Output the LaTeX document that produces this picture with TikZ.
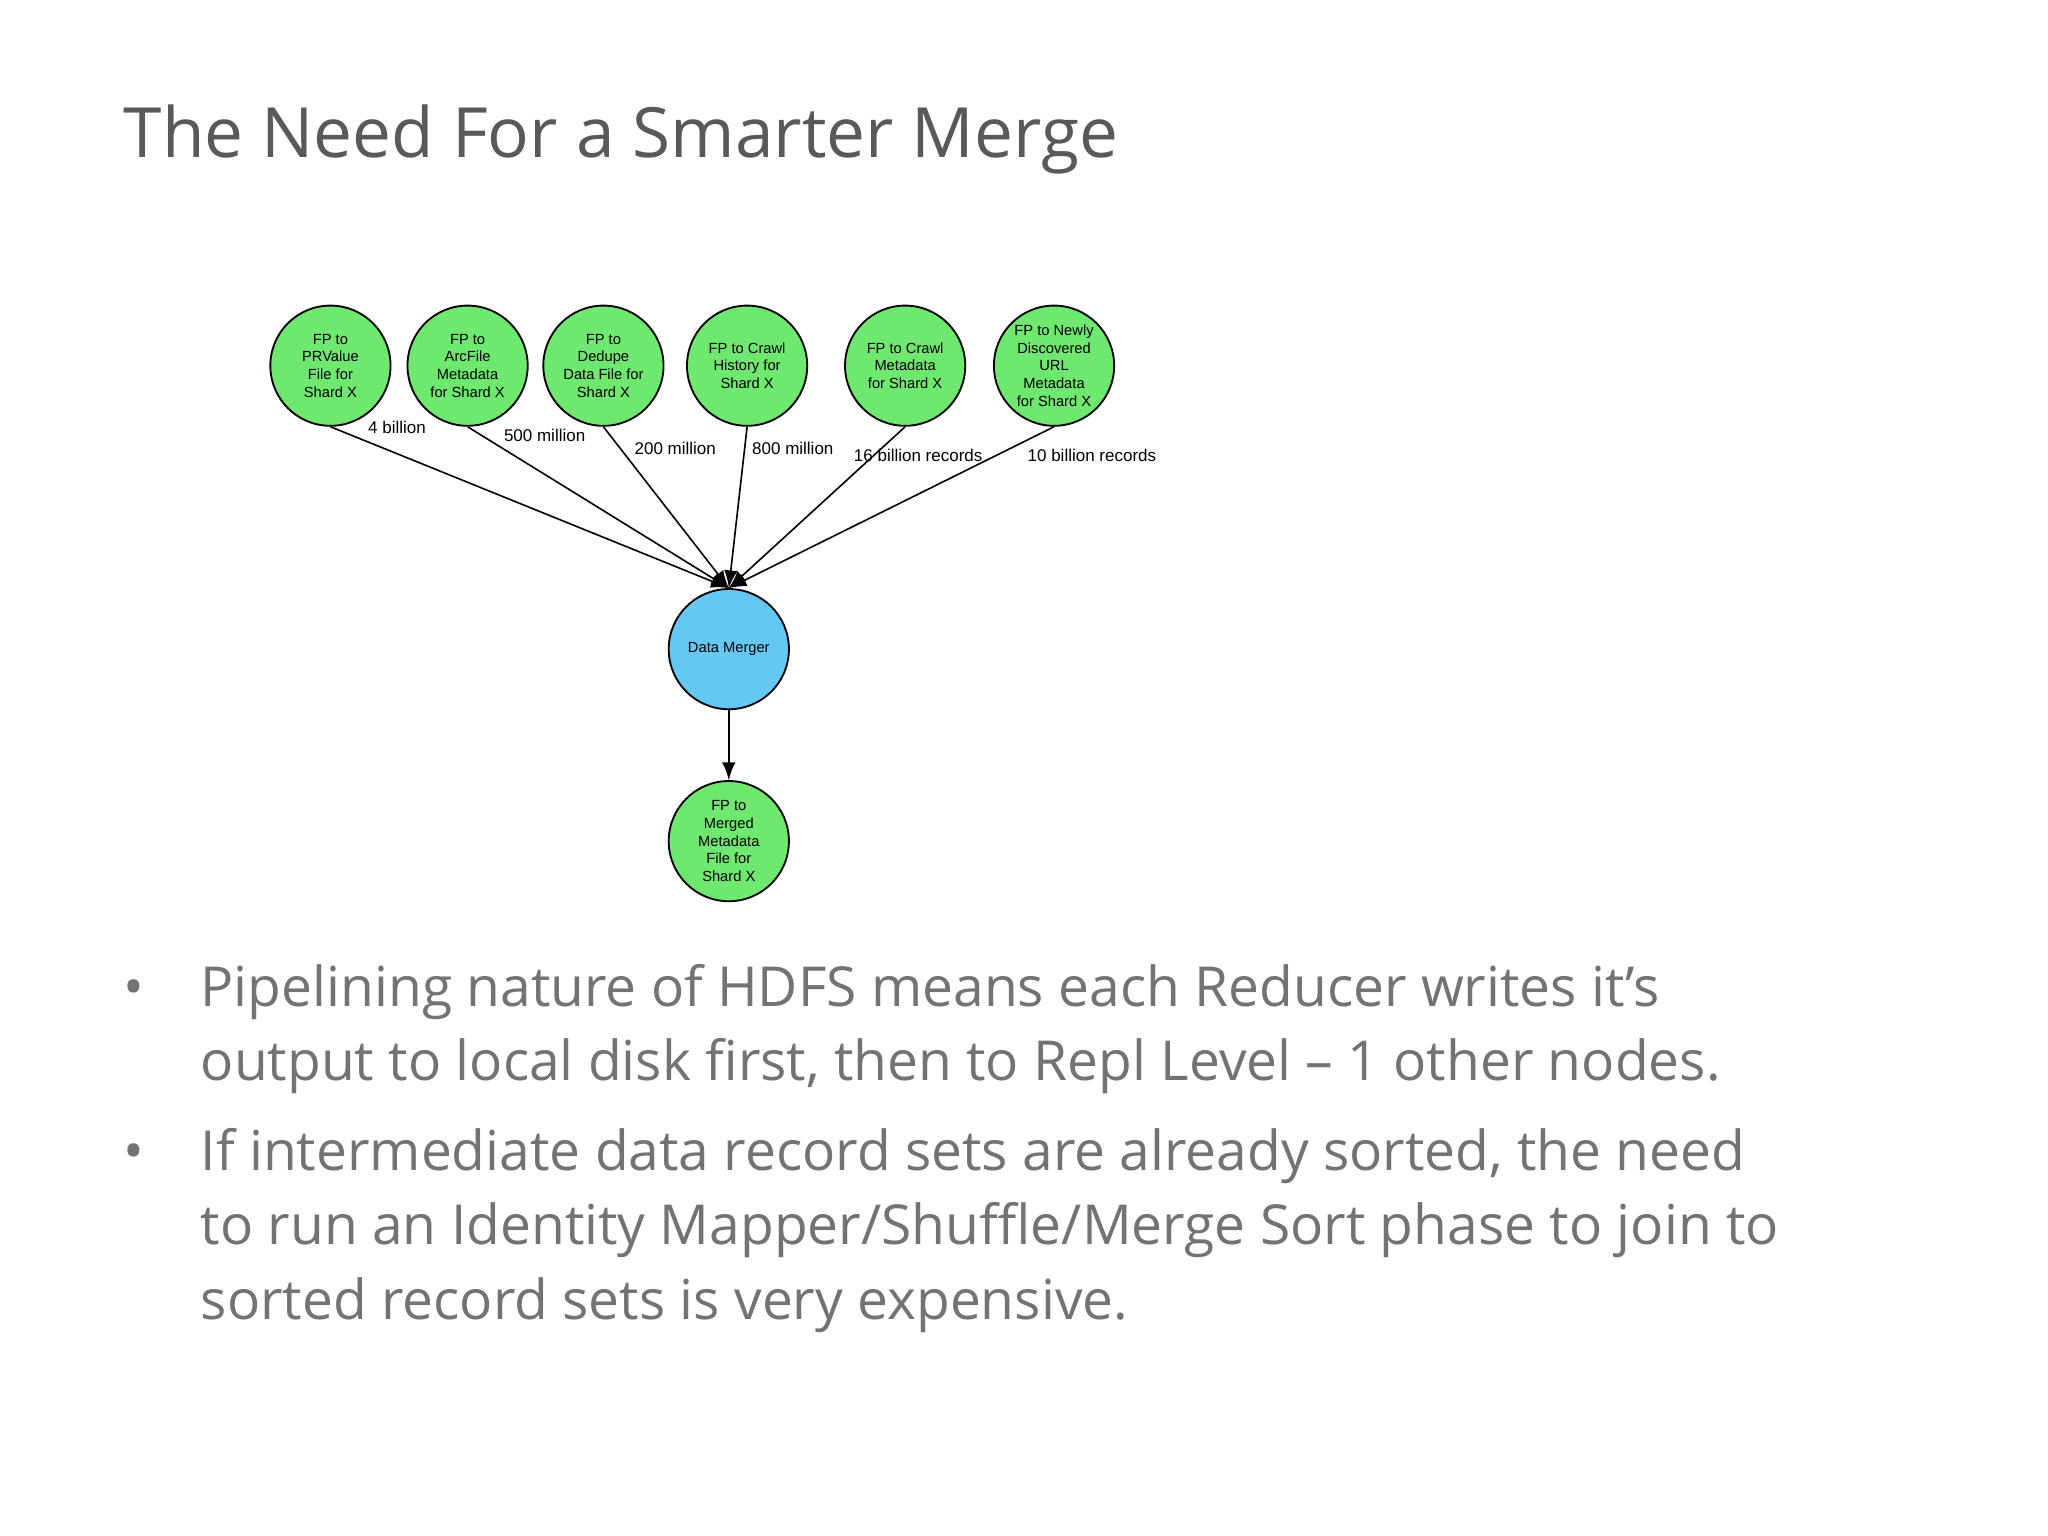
\documentclass[tikz,border=0pt]{standalone}
\usepackage{fontspec}
\setmainfont{Open Sans}
\newfontfamily\titlefont{Open Sans}
\newfontfamily\nodefont{Liberation Sans}
\begin{document}
\begin{tikzpicture}[x=0.01cm,y=-0.01cm,
  gnode/.style={circle,draw=black,line width=0.4pt,minimum size=0.92cm,inner sep=0pt,align=center,font=\nodefont\fontsize{3.2}{3.85}\selectfont},
  bnode/.style={gnode},
  edge/.style={-latex,line width=0.35pt},
  lab/.style={font=\nodefont\fontsize{3.7}{4.4}\selectfont,inner sep=0pt}]
\useasboundingbox (0,0) rectangle (1568,1176);
\fill[white] (0,0) rectangle (1568,1176);
\node[anchor=west,text=black!65,font=\titlefont\fontsize{15.1}{18}\selectfont,inner sep=0pt] (title) at (94,107) {The Need For a Smarter Merge};
\definecolor{gfill}{RGB}{110,232,110}
\definecolor{bfill}{RGB}{100,200,245}
\node[gnode,fill=gfill] (a) at (253,280) {FP to\\PRValue\\File for\\Shard X};
\node[gnode,fill=gfill] (b) at (358,280) {FP to\\ArcFile\\Metadata\\for Shard X};
\node[gnode,fill=gfill] (c) at (462,280) {FP to\\Dedupe\\Data File for\\Shard X};
\node[gnode,fill=gfill] (d) at (572,280) {FP to Crawl\\History for\\Shard X};
\node[gnode,fill=gfill] (e) at (693,280) {FP to Crawl\\Metadata\\for Shard X};
\node[gnode,fill=gfill] (f) at (807,280) {FP to Newly\\Discovered\\URL\\Metadata\\for Shard X};
\node[bnode,fill=bfill] (m) at (558,497) {Data Merger};
\node[gnode,fill=gfill] (o) at (558,644) {FP to\\Merged\\Metadata\\File for\\Shard X};
\foreach \n in {a,b,c,d,e,f} \draw[edge] (\n.south) -- (m.north);
\draw[edge] (m) -- (o);
\node[lab,fill=white,inner sep=0.5pt] (la) at (304,327) {4 billion};
\node[lab,fill=white,inner sep=0.5pt] (lb) at (417,333) {500 million};
\node[lab,fill=white,inner sep=0.5pt] (lc) at (517,343) {200 million};
\node[lab,fill=white,inner sep=0.5pt] (ld) at (607,343) {800 million};
\node[lab] (le) at (703,349) {16 billion records};
\node[lab] (lf) at (836,349) {10 billion records};
\begin{scope}[every node/.style={anchor=west,text=black!55,font=\fontsize{12}{16.2}\selectfont,inner sep=0pt,align=left}]
\node (d1) at (94,760) {•};
\node (t1) at (153,788) {Pipelining nature of HDFS means each Reducer writes it’s\\output to local disk first, then to Repl Level – 1 other nodes.};
\node (d2) at (94,886) {•};
\node (t2) at (153,942) {If intermediate data record sets are already sorted, the need\\to run an Identity Mapper/Shuffle/Merge Sort phase to join to\\sorted record sets is very expensive.};
\end{scope}
\end{tikzpicture}
\end{document}
